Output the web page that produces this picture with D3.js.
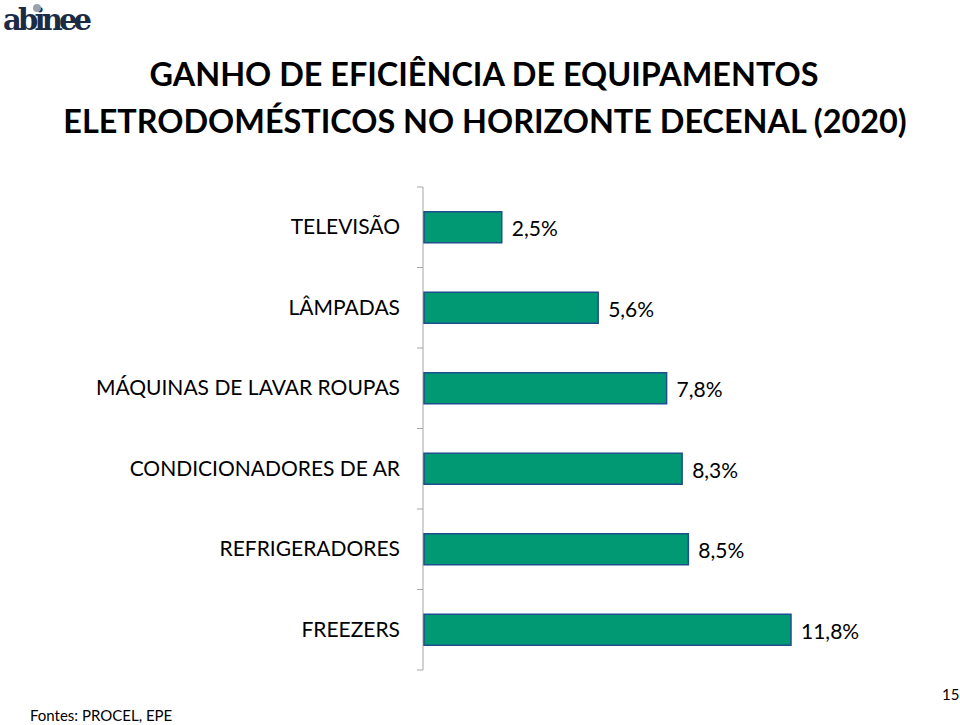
<!DOCTYPE html>
<html><head><meta charset="utf-8">
<script src="https://cdn.jsdelivr.net/npm/d3@7"></script>
<style>body{margin:0;background:#fff}svg{display:block}</style>
</head><body>
<svg id="c" width="960" height="725"></svg>
<script>
const categories = ["TELEVISÃO","LÂMPADAS","MÁQUINAS DE LAVAR ROUPAS","CONDICIONADORES DE AR","REFRIGERADORES","FREEZERS"];
const values = [2.5,5.6,7.8,8.3,8.5,11.8];
const valueLabels = ["2,5%","5,6%","7,8%","8,3%","8,5%","11,8%"];
const titleLines = ["GANHO DE EFICIÊNCIA DE EQUIPAMENTOS","ELETRODOMÉSTICOS NO HORIZONTE DECENAL (2020)"];

const svg = d3.select("#c");
const font = "Lato, 'Open Sans', sans-serif";

// logo
const logo = svg.append("g");
logo.append("text").attr("x",3).attr("y",30).attr("font-family","'DejaVu Serif', serif").attr("font-weight","bold")
  .attr("font-size",29).attr("fill","#1c2b45").attr("letter-spacing",-3.8).text("abinee");
logo.append("circle").attr("cx",37).attr("cy",8).attr("r",4).attr("fill","#9aa3ad");

// title
svg.append("g").selectAll("text").data(titleLines).join("text")
  .attr("x",(d,i)=>i===0?484:485).attr("y",(d,i)=>86+i*47).attr("text-anchor","middle")
  .attr("font-family",font).attr("font-weight","bold").attr("font-size",32.4).attr("fill","#000")
  .text(d=>d);

const x0 = 423;
const x = d3.scaleLinear().domain([0,11.8]).range([x0, x0+367]);
const y = d3.scaleBand().domain(categories).range([187,670]).paddingInner(0.615).paddingOuter(0.3075);

// axis
const ax = svg.append("g");
ax.append("line").attr("x1",x0).attr("x2",x0).attr("y1",187).attr("y2",670).attr("stroke","#a6a6a6").attr("stroke-width",1);
const step = y.step();
ax.selectAll("line.t").data(d3.range(categories.length+1)).join("line").attr("class","t")
  .attr("x1",x0-6).attr("x2",x0).attr("y1",i=>187+i*step).attr("y2",i=>187+i*step)
  .attr("stroke","#a6a6a6");

// bars
svg.append("g").selectAll("rect").data(values).join("rect")
  .attr("x",x(0)+1).attr("y",(d,i)=>y(categories[i]))
  .attr("width",d=>x(d)-x(0)).attr("height",y.bandwidth())
  .attr("fill","#009973").attr("stroke","#1f4e8c").attr("stroke-width",1.5);

// category labels
svg.append("g").selectAll("text").data(categories).join("text")
  .attr("x",400).attr("y",d=>y(d)+y.bandwidth()/2+7).attr("text-anchor","end")
  .attr("font-family",font).attr("font-size",21).attr("fill","#000").text(d=>d);

// value labels
svg.append("g").selectAll("text").data(values).join("text")
  .attr("x",d=>x(d)+11).attr("y",(d,i)=>y(categories[i])+y.bandwidth()/2+9)
  .attr("font-family",font).attr("font-size",21).attr("fill","#000").text((d,i)=>valueLabels[i]);

svg.append("text").attr("x",30).attr("y",721).attr("font-family",font).attr("font-size",15).text("Fontes: PROCEL, EPE");
svg.append("text").attr("x",942).attr("y",700).attr("font-family",font).attr("font-size",15).text("15");
</script>
</body></html>
